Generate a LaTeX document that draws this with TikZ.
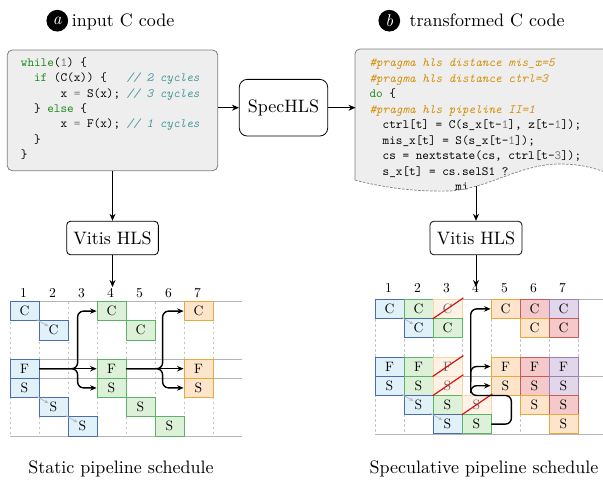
\documentclass[tikz,border=0pt]{standalone}
\usepackage{fontspec}
\setmainfont{lmroman10-regular.otf}[ItalicFont=lmroman10-italic.otf, BoldFont=lmroman10-bold.otf]
\setmonofont{lmmono10-regular.otf}[ItalicFont=lmmono10-italic.otf]
\usetikzlibrary{arrows.meta}
\definecolor{bfill}{HTML}{E1F1FA}\definecolor{bdraw}{HTML}{4A6CB0}
\definecolor{gfill}{HTML}{DDF1D8}\definecolor{gdraw}{HTML}{5BB36A}
\definecolor{ofill}{HTML}{FDE5CC}\definecolor{odraw}{HTML}{E9A93A}
\definecolor{rfill}{HTML}{F5C9C9}\definecolor{rdraw}{HTML}{C85A5A}
\definecolor{pfill}{HTML}{E2D6EA}\definecolor{pdraw}{HTML}{9C80B8}
\definecolor{ffill}{HTML}{FEF2E6}\definecolor{fdraw}{HTML}{F5D6A8}\definecolor{ftext}{HTML}{6A6A6A}
\definecolor{codebg}{HTML}{EEEEEE}\definecolor{codeborder}{HTML}{7F7F7F}
\definecolor{kwc}{HTML}{1E8C1E}\definecolor{numc}{HTML}{777777}
\definecolor{cmc}{HTML}{4A9A9A}\definecolor{prc}{HTML}{D4900A}
\definecolor{gridc}{HTML}{C4C4C4}\definecolor{gridc2}{HTML}{B4B4B4}
\definecolor{strikec}{HTML}{D01818}
\newcommand\cellfont{\fontsize{13.6}{15}\selectfont}
\newcommand\mainfont{\fontsize{18}{20}\selectfont}
\newcommand\codefont{\fontsize{12.6}{15}\selectfont\ttfamily}
\begin{document}
\begin{tikzpicture}[x=1pt,y=-1pt,
  cell/.style={draw, line width=0.8pt, minimum width=29pt, minimum height=19.2pt, inner sep=0pt, font=\cellfont},
  cB/.style={fill=bfill, draw=bdraw},
  cG/.style={fill=gfill, draw=gdraw},
  cO/.style={fill=ofill, draw=odraw},
  cR/.style={fill=rfill, draw=rdraw},
  cP/.style={fill=pfill, draw=pdraw},
  cF/.style={fill=ffill, draw=fdraw, text=ftext},
  digit/.style={inner sep=0pt, font=\cellfont},
  gridd/.style={draw=gridc, dash pattern=on 2.5pt off 2.5pt, line width=0.6pt},
  gridl/.style={draw=gridc2, line width=0.8pt},
  arr/.style={-{Stealth[length=7pt,width=6pt]}, line width=0.9pt},
  sarr/.style={-{Stealth[length=6.5pt,width=5.5pt]}, line width=1.4pt, rounded corners=6pt},
  garr/.style={-{Stealth[length=4pt,width=3.5pt]}, draw=gray!55, line width=0.8pt},
  strike/.style={draw=strikec, line width=1.2pt},
  box/.style={draw, line width=0.8pt, rounded corners=5pt, inner sep=0pt, font=\mainfont},
  code/.style={anchor=base west, inner sep=0pt, font=\codefont},
  badge/.style={circle, fill=black, text=white, minimum size=21.7pt, inner sep=0pt, font=\fontsize{17}{17}\selectfont\itshape},
  title/.style={anchor=base west, inner sep=0pt, font=\mainfont},
  caption/.style={anchor=base, inner sep=0pt, font=\mainfont}]
\useasboundingbox (0,0) rectangle (603,482);
\clip (0,0) rectangle (603,482);

% ---------- titles
\node[badge] (ba) at (57.3,20.7) {a};
\node[title] (ta) at (71.7,26) {input C code};
\node[badge] (bb) at (389.3,20.7) {b};
\node[title] (tb) at (409.3,26) {transformed C code};

% ---------- left code box
\node[box, fill=codebg, draw=codeborder, minimum width=210.4pt, minimum height=120.7pt] (codeA) at (112.5,110.35) {};
\node[code] (a1) at (20.7,66.5) {{\color{kwc}while}({\color{numc}1})~\{};
\node[code] (a2) at (20.7,81.8) {~~{\color{kwc}if}~(C(x))~\{~~~{\color{cmc}\itshape//~2~cycles}};
\node[code] (a3) at (20.7,97.1) {~~~~~~x~{\color{numc}=}~S(x);~{\color{cmc}\itshape//~3~cycles}};
\node[code] (a4) at (20.7,112.4) {~~\}~{\color{kwc}else}~\{};
\node[code] (a5) at (20.7,127.7) {~~~~~~x~{\color{numc}=}~F(x);~{\color{cmc}\itshape//~1~cycles}};
\node[code] (a6) at (20.7,143.0) {~~\}};
\node[code] (a7) at (20.7,158.3) {\}};

% ---------- SpecHLS
\node[box, rounded corners=8pt, minimum width=88.4pt, minimum height=56.7pt] (spec) at (283.5,107.7) {SpecHLS};

% ---------- right code box
\fill[codebg] (355,180) -- (355,54) .. controls (355,51.2) and (357.2,49) .. (360,49) -- (615,49) -- (615,176)
  .. controls (600,170) and (585,164) .. (560,164) .. controls (520,164) and (490,188) .. (450,191)
  .. controls (415,192) and (380,187) .. (355,180) -- cycle;
\node[code] (b1) at (369.3,66.5) {{\color{prc}\itshape\#pragma~hls~distance~mis\_x=5}};
\node[code] (b2) at (369.3,82.0) {{\color{prc}\itshape\#pragma~hls~distance~ctrl=3}};
\node[code] (b3) at (369.3,97.5) {{\color{kwc}do}~\{};
\node[code] (b4) at (369.3,113.0) {{\color{prc}\itshape\#pragma~hls~pipeline~II=1}};
\node[code] (b5) at (369.3,128.5) {~~ctrl[t]~=~C(s\_x[t-{\color{numc}1}],~z[t-{\color{numc}1}]);};
\node[code] (b6) at (369.3,144.0) {~~mis\_x[t]~=~S(s\_x[t-{\color{numc}1}]);};
\node[code] (b7) at (369.3,159.5) {~~cs~=~nextstate(cs,~ctrl[t-{\color{numc}3}]);};
\node[code] (b8) at (369.3,175.0) {~~s\_x[t]~=~cs.selS1~?};
\node[code] (b9) at (369.3,190.5) {~~~~~~~~~~~~~mi};
\fill[white, opacity=0.75] (615,176)
  .. controls (600,170) and (585,164) .. (560,164) .. controls (520,164) and (490,188) .. (450,191)
  .. controls (415,192) and (380,187) .. (355,180) -- (345,180) -- (345,214) -- (615,214) -- cycle;
\draw[codeborder, line width=0.8pt] (355,180) -- (355,54) .. controls (355,51.2) and (357.2,49) .. (360,49) -- (615,49);
\draw[codeborder, line width=0.7pt, dash pattern=on 2.5pt off 1.5pt] (615,176)
  .. controls (600,170) and (585,164) .. (560,164) .. controls (520,164) and (490,188) .. (450,191)
  .. controls (415,192) and (380,187) .. (355,180);
\coordinate (codeBin) at (355.5,107.7);
\coordinate (wv) at (476,186);

% ---------- Vitis HLS
\node[box, rounded corners=4pt, minimum width=91.7pt, minimum height=33.6pt] (vitA) at (112.5,238) {Vitis HLS};
\node[box, rounded corners=4pt, minimum width=92pt, minimum height=33.6pt] (vitB) at (476,238) {Vitis HLS};
\coordinate (schA) at (112.5,287);
\coordinate (schB) at (476,287);

\draw[arr] (codeA.east |- spec.west) -- (spec.west);
\draw[arr] (spec.east) -- (codeBin);
\draw[arr] (codeA.south -| vitA.north) -- (vitA.north);
\draw[arr] (vitA.south) -- (schA);
\draw[arr] (wv) -- (vitB.north);
\draw[arr] (vitB.south) -- (schB);

% ---------- left schedule grid
\foreach \k in {0,...,7} \draw[gridd] ({10+29*\k},301.5) -- ({10+29*\k},435.9);
\foreach \yy in {301.5,359.1,378.3,435.9} \draw[gridl] (10,\yy) -- (242,\yy);
\foreach \c in {1,...,7} \node[digit] (dL\c) at ({10+29*(\c-0.5)-1},293) {\c};
\foreach \c/\r/\t/\s in {1/1/C/cB, 2/2/C/cB, 1/4/F/cB, 1/5/S/cB, 2/6/S/cB, 3/7/S/cB,
  4/1/C/cG, 5/2/C/cG, 4/4/F/cG, 4/5/S/cG, 5/6/S/cG, 6/7/S/cG,
  7/1/C/cO, 7/4/F/cO, 7/5/S/cO}
  \node[cell,\s] (L\c\r) at ({10+29*(\c-0.5)},{301.5+19.2*(\r-0.5)}) {\t};
\draw[garr] ([shift={(-3,-1.5)}]L11.south east) -- ([shift={(-5,-4)}]L22.center);
\draw[garr] ([shift={(-3,-1.5)}]L15.south east) -- ([shift={(-5,-4)}]L26.center);
\draw[garr] ([shift={(-3,-1.5)}]L26.south east) -- ([shift={(-5,-4)}]L37.center);
\draw[sarr] (L14.east) -- (L44.west);
\draw[sarr] (L14.east) -| ([xshift=-19pt]L41.west) -- (L41.west);
\draw[sarr] (L14.east) -| ([xshift=-19pt]L45.west) -- (L45.west);
\draw[sarr] (L44.east) -- (L74.west);
\draw[sarr] (L44.east) -| ([xshift=-21pt]L71.west) -- (L71.west);
\draw[sarr] (L44.east) -| ([xshift=-21pt]L75.west) -- (L75.west);

% ---------- right schedule grid
\foreach \k in {0,...,7} \draw[gridd] ({375+29*\k},299.3) -- ({375+29*\k},434.3);
\foreach \yy in {299.3,376.1,434.3} \draw[gridl] (375,\yy) -- (603,\yy);
\foreach \c in {1,...,7} \node[digit] (dR\c) at ({375+29*(\c-0.5)-1},288.3) {\c};
\foreach \c/\r/\t/\s in {1/1/C/cB, 2/1/C/cG, 3/1/C/cF, 5/1/C/cO, 6/1/C/cR, 7/1/C/cP,
  2/2/C/cB, 3/2/C/cG, 6/2/C/cO, 7/2/C/cR,
  1/4/F/cB, 2/4/F/cG, 3/4/F/cF, 5/4/F/cO, 6/4/F/cR, 7/4/F/cP,
  1/5/S/cB, 2/5/S/cG, 3/5/S/cF, 5/5/S/cO, 6/5/S/cR, 7/5/S/cP,
  2/6/S/cB, 3/6/S/cG, 4/6/S/cF, 6/6/S/cO, 7/6/S/cR,
  3/7/S/cB, 4/7/S/cG, 7/7/S/cO}
  \node[cell,\s] (R\c\r) at ({375+29*(\c-0.5)},{299.3+19.2*(\r-0.5)}) {\t};
\foreach \n in {R31,R34,R35,R46} \draw[strike] (\n.south west) -- ([shift={(1,-1)}]\n.north east);
\draw[garr] ([shift={(-3,-1.5)}]R11.south east) -- ([shift={(-5,-4)}]R22.center);
\draw[garr] ([shift={(-3,-1.5)}]R15.south east) -- ([shift={(-5,-4)}]R26.center);
\draw[garr] ([shift={(-3,-1.5)}]R26.south east) -- ([shift={(-5,-4)}]R37.center);
\coordinate (rj) at (470.7,395.5);
\coordinate (rjF) at (470.7,382);
\coordinate (rjS) at (470.7,393);
\draw[sarr] (R47.east) -- ++(20,0) |- (rj) |- (R51.west);
\draw[sarr] (rjF) |- (R54.west);
\draw[sarr] (rjS) |- (R55.west);

% ---------- captions
\node[caption] (capA) at (121,473) {Static pipeline schedule};
\node[caption] (capB) at (484,473) {Speculative pipeline schedule};
\end{tikzpicture}
\end{document}
